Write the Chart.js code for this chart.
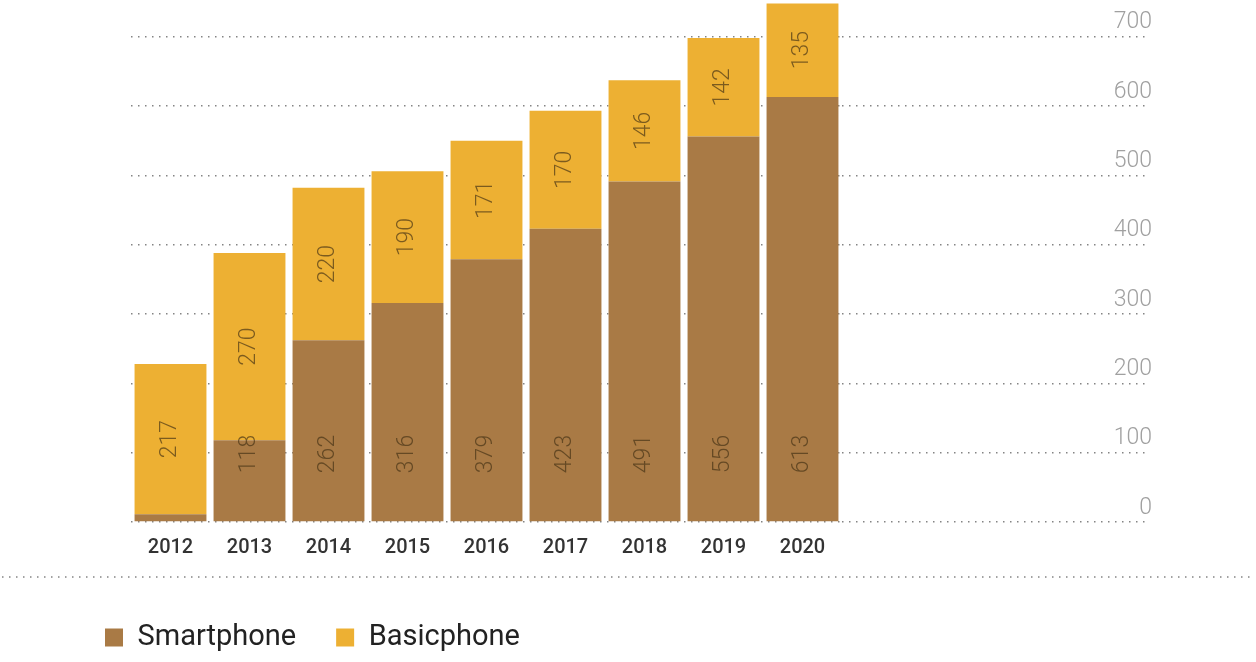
<!DOCTYPE html>
<html lang="en">
<head>
<meta charset="UTF-8" />
<title>Smartphone / Basicphone</title>
<style>
  html, body { margin: 0; padding: 0; background: #fff; }
  .wrap { width: 1256px; height: 662px; }
</style>
</head>
<body>
<div class="wrap"><canvas id="phoneChart"></canvas></div>

<script src="https://cdn.jsdelivr.net/npm/chart.js@4.4.0/dist/chart.umd.min.js"></script>
<script>
  // yearly figures
  const years = ["2012", "2013", "2014", "2015", "2016", "2017", "2018", "2019", "2020"];
  const smartphone = [11, 118, 262, 316, 379, 423, 491, 556, 613];
  const basicphone = [217, 270, 220, 190, 171, 170, 146, 142, 135];
  const yTicks = [0, 100, 200, 300, 400, 500, 600, 700];

  const brown = "#A97A45";
  const orange = "#EDB033";
  const dotColor = "rgba(110,110,110,0.85)";

  // numbers written sideways inside each segment
  const barLabels = {
    id: "barLabels",
    afterDatasetsDraw(chart) {
      const ctx = chart.ctx;
      const y = chart.scales.y;
      ctx.save();
      ctx.font = "300 23px Roboto, sans-serif";
      ctx.fillStyle = "rgba(70,50,20,0.68)";
      ctx.textAlign = "center";
      ctx.textBaseline = "middle";
      chart.data.datasets.forEach((ds, di) => {
        const meta = chart.getDatasetMeta(di);
        meta.data.forEach((bar, i) => {
          const v = ds.data[i];
          if (v < 30) return;
          let cy;
          if (di === 0) cy = y.getPixelForValue(0) - 68;
          else cy = (bar.y + bar.base) / 2;
          ctx.save();
          ctx.translate(bar.x, cy);
          ctx.rotate(-Math.PI / 2);
          ctx.fillText(String(v), 0, 0);
          ctx.restore();
        });
      });
      ctx.restore();
    }
  };

  // dotted separator above the legend
  const bottomRule = {
    id: "bottomRule",
    afterDraw(chart) {
      const ctx = chart.ctx;
      ctx.save();
      ctx.strokeStyle = dotColor;
      ctx.lineWidth = 1.5;
      ctx.setLineDash([1.5, 5.5]);
      ctx.beginPath();
      ctx.moveTo(2, 577);
      ctx.lineTo(1250, 577);
      ctx.stroke();
      ctx.restore();
    }
  };

  new Chart(document.getElementById("phoneChart"), {
    type: "bar",
    data: {
      labels: years,
      datasets: [
        {
          label: "Smartphone",
          data: smartphone,
          yAxisID: "y",
          backgroundColor: brown,
          borderWidth: 0,
          barPercentage: 0.91,
          categoryPercentage: 1
        },
        {
          label: "Basicphone",
          data: basicphone,
          yAxisID: "y",
          backgroundColor: orange,
          borderWidth: 0,
          barPercentage: 0.91,
          categoryPercentage: 1
        }
      ]
    },
    options: {
      responsive: true,
      maintainAspectRatio: false,
      animation: false,
      layout: { padding: { left: 65, right: 104, top: 2, bottom: 0 } },
      plugins: {
        tooltip: { enabled: false },
        legend: {
          position: "bottom",
          align: "start",
          labels: {
            boxWidth: 18,
            boxHeight: 18,
            padding: 40,
            color: "#222",
            font: { family: "Roboto, sans-serif", size: 29 }
          }
        }
      },
      scales: {
        x: {
          stacked: true,
          grid: { display: false },
          border: { display: false },
          ticks: {
            padding: 6,
            color: "#333",
            font: { family: "Roboto, sans-serif", size: 20, weight: "500" }
          },
          afterFit(s) { s.height = 61; }
        },
        // empty axis that only reserves room on the left
        pad: {
          type: "linear",
          position: "left",
          grid: { display: false },
          border: { display: false },
          ticks: { display: false },
          afterFit(s) { s.width = 66; }
        },
        y: {
          stacked: true,
          position: "right",
          min: 0,
          max: 750,
          afterBuildTicks(s) { s.ticks = yTicks.map(v => ({ value: v })); },
          border: { display: false, dash: [1.5, 5.5] },
          grid: {
            color: dotColor,
            lineWidth: 1.5,
            borderDash: [1.5, 5.5],
            drawTicks: true,
            tickLength: 308,
            tickColor: dotColor,
            tickWidth: 1.5,
            tickBorderDash: [1.5, 5.5]
          },
          ticks: {
            padding: -38,
            crossAlign: "far",
            labelOffset: -14,
            color: "#a0a0a0",
            font: { family: "Roboto, sans-serif", size: 23, weight: "300" }
          },
          afterFit(s) { s.width = 310; }
        }
      }
    },
    plugins: [barLabels, bottomRule]
  });
</script>
</body>
</html>
